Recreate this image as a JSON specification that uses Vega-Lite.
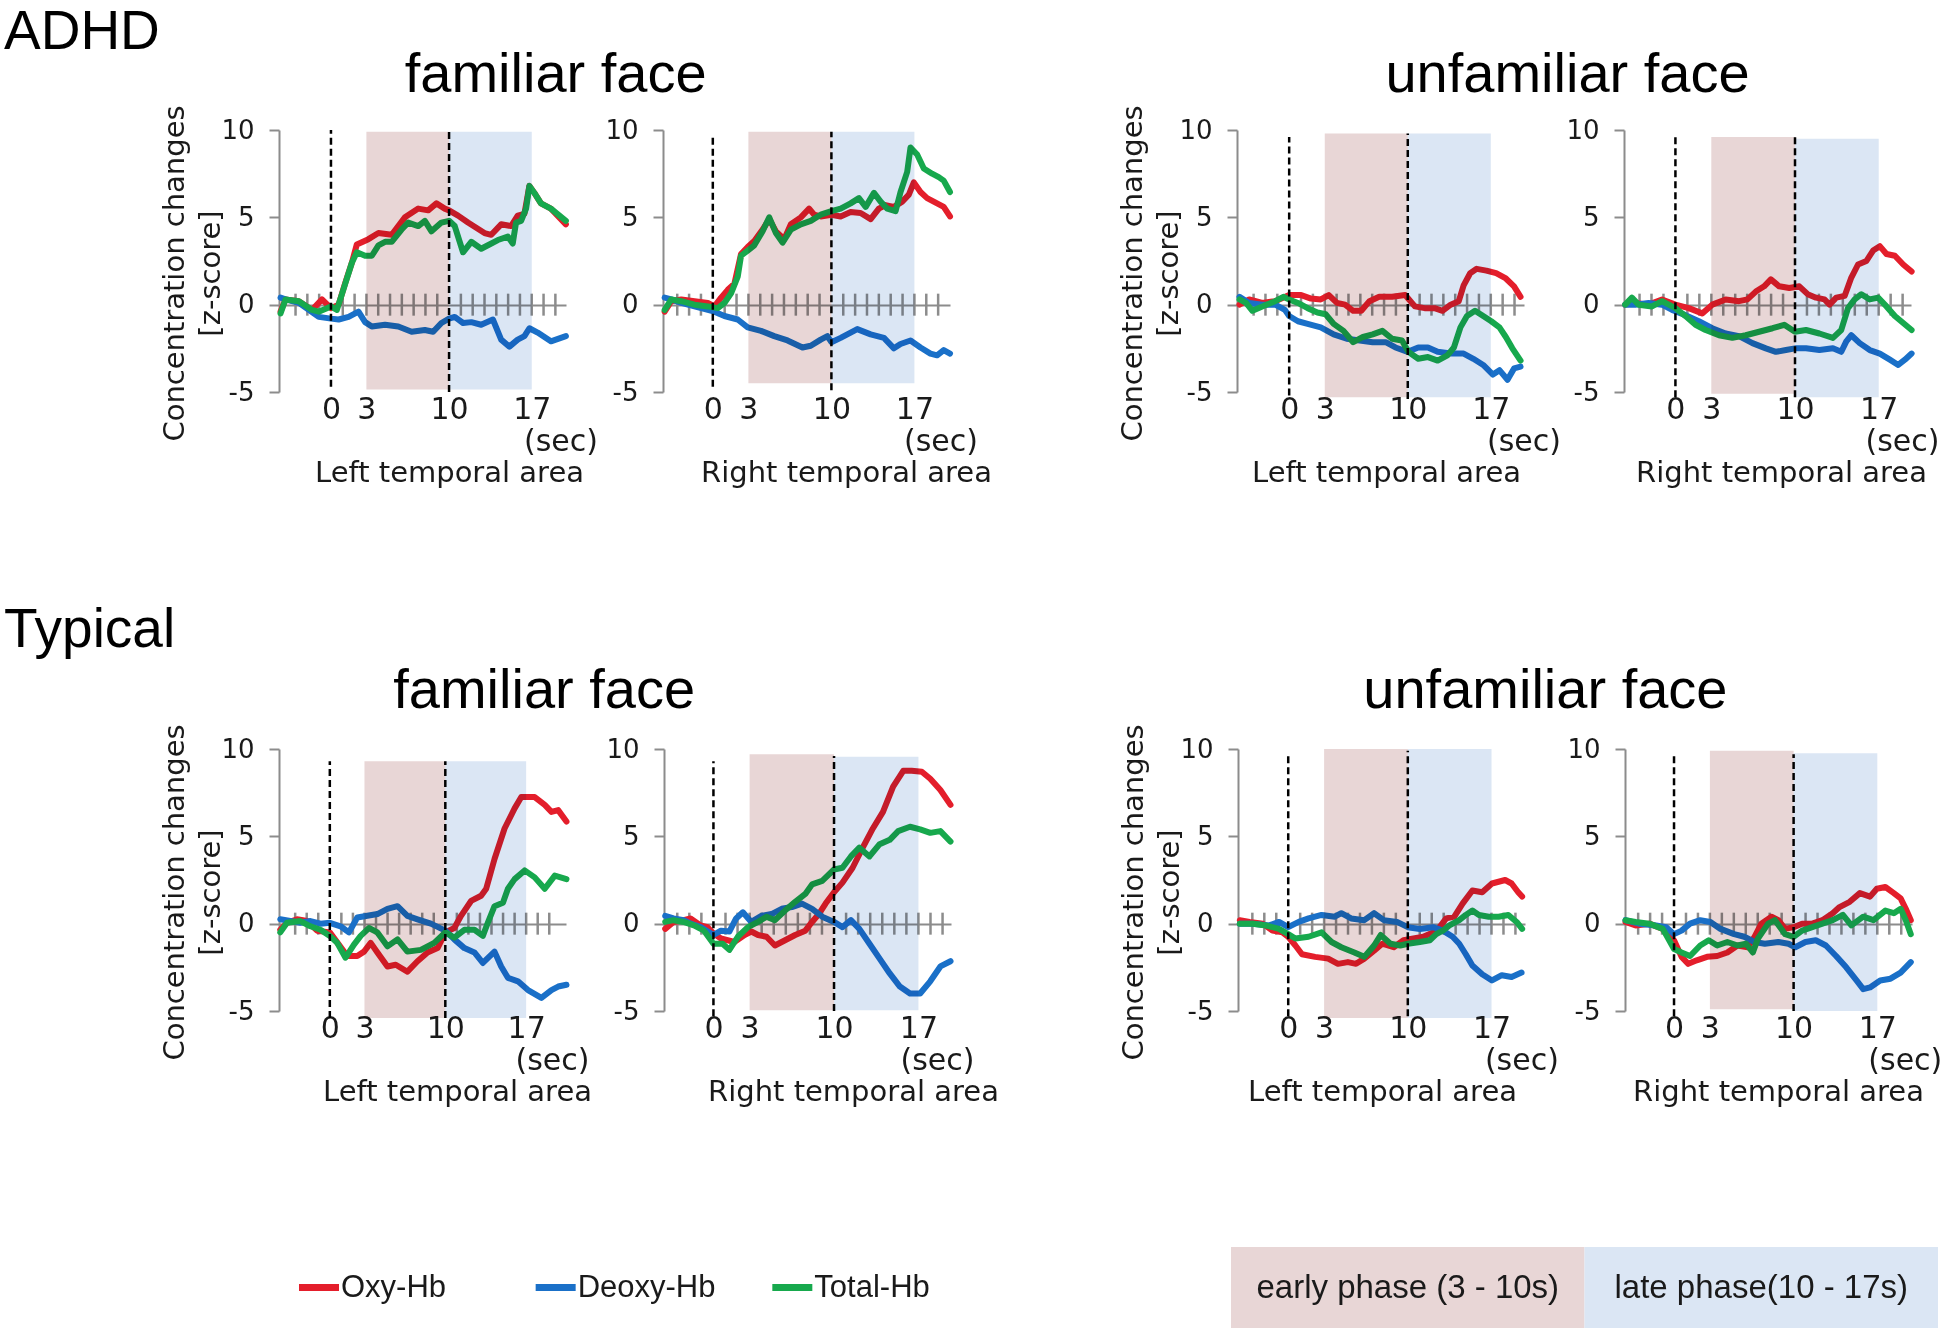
{
  "$schema": "https://vega.github.io/schema/vega-lite/v6.json",
  "padding": {"left": 4, "top": 4, "right": 0, "bottom": 0},
  "background": "white",
  "datasets": {
    "ticks": [{"t":-3,"v":0},{"t":-2,"v":0},{"t":-1,"v":0},{"t":1,"v":0},{"t":2,"v":0},{"t":3,"v":0},{"t":4,"v":0},{"t":5,"v":0},{"t":6,"v":0},{"t":7,"v":0},{"t":8,"v":0},{"t":9,"v":0},{"t":11,"v":0},{"t":12,"v":0},{"t":13,"v":0},{"t":14,"v":0},{"t":15,"v":0},{"t":16,"v":0},{"t":17,"v":0},{"t":18,"v":0},{"t":19,"v":0}],
    "phases": [
      {"p":"A1","phase":"early phase (3 - 10s)","t":3,"t2":10,"v":-4.85,"v2":9.9},
      {"p":"A1","phase":"late phase(10 - 17s)","t":10,"t2":17,"v":-4.85,"v2":9.9},
      {"p":"A2","phase":"early phase (3 - 10s)","t":3,"t2":10,"v":-4.5,"v2":9.9},
      {"p":"A2","phase":"late phase(10 - 17s)","t":10,"t2":17,"v":-4.5,"v2":9.9},
      {"p":"A3","phase":"early phase (3 - 10s)","t":3,"t2":10,"v":-5.3,"v2":9.8},
      {"p":"A3","phase":"late phase(10 - 17s)","t":10,"t2":17,"v":-5.3,"v2":9.8},
      {"p":"A4","phase":"early phase (3 - 10s)","t":3,"t2":10,"v":-5.1,"v2":9.6},
      {"p":"A4","phase":"late phase(10 - 17s)","t":10,"t2":17,"v":-5.3,"v2":9.5},
      {"p":"T1","phase":"early phase (3 - 10s)","t":3,"t2":10,"v":-5.4,"v2":9.3},
      {"p":"T1","phase":"late phase(10 - 17s)","t":10,"t2":17,"v":-5.4,"v2":9.3},
      {"p":"T2","phase":"early phase (3 - 10s)","t":3,"t2":10,"v":-4.95,"v2":9.7},
      {"p":"T2","phase":"late phase(10 - 17s)","t":10,"t2":17,"v":-4.95,"v2":9.55},
      {"p":"T3","phase":"early phase (3 - 10s)","t":3,"t2":10,"v":-5.4,"v2":10},
      {"p":"T3","phase":"late phase(10 - 17s)","t":10,"t2":17,"v":-5.4,"v2":10},
      {"p":"T4","phase":"early phase (3 - 10s)","t":3,"t2":10,"v":-4.9,"v2":9.9},
      {"p":"T4","phase":"late phase(10 - 17s)","t":10,"t2":17,"v":-5.0,"v2":9.75}
    ],
    "dashes": [
      {"p":"A1","t":0,"v":-4.7,"v2":10},{"p":"A1","t":10,"v":-5.0,"v2":10},
      {"p":"A2","t":0,"v":-4.7,"v2":9.75},{"p":"A2","t":10,"v":-4.9,"v2":9.9},
      {"p":"A3","t":0,"v":-5.2,"v2":9.6},{"p":"A3","t":10,"v":-5.4,"v2":9.8},
      {"p":"A4","t":0,"v":-5.3,"v2":9.6},{"p":"A4","t":10,"v":-5.3,"v2":9.6},
      {"p":"T1","t":0,"v":-5.4,"v2":9.3},{"p":"T1","t":10,"v":-5.4,"v2":9.3},
      {"p":"T2","t":0,"v":-5.3,"v2":9.3},{"p":"T2","t":10,"v":-5.0,"v2":9.6},
      {"p":"T3","t":0,"v":-5.3,"v2":9.8},{"p":"T3","t":10,"v":-5.3,"v2":9.9},
      {"p":"T4","t":0,"v":-5.3,"v2":9.6},{"p":"T4","t":10,"v":-5.0,"v2":9.7}
    ],
    "curves": [
      {"p":"A1","s":"Oxy-Hb","t":-4.27,"v":-0.4},{"p":"A1","s":"Oxy-Hb","t":-3.85,"v":0.3},{"p":"A1","s":"Oxy-Hb","t":-2.72,"v":0.2},{"p":"A1","s":"Oxy-Hb","t":-1.6,"v":-0.3},{"p":"A1","s":"Oxy-Hb","t":-0.76,"v":0.3},{"p":"A1","s":"Oxy-Hb","t":0,"v":-0.2},{"p":"A1","s":"Oxy-Hb","t":0.65,"v":0},{"p":"A1","s":"Oxy-Hb","t":1.21,"v":1.25},{"p":"A1","s":"Oxy-Hb","t":1.77,"v":2.4},{"p":"A1","s":"Oxy-Hb","t":2.19,"v":3.45},{"p":"A1","s":"Oxy-Hb","t":3.17,"v":3.75},{"p":"A1","s":"Oxy-Hb","t":4.02,"v":4.1},{"p":"A1","s":"Oxy-Hb","t":5.14,"v":4.0},{"p":"A1","s":"Oxy-Hb","t":6.26,"v":5.0},{"p":"A1","s":"Oxy-Hb","t":7.39,"v":5.5},{"p":"A1","s":"Oxy-Hb","t":8.23,"v":5.4},{"p":"A1","s":"Oxy-Hb","t":8.93,"v":5.8},{"p":"A1","s":"Oxy-Hb","t":9.63,"v":5.5},{"p":"A1","s":"Oxy-Hb","t":10.0,"v":5.4},{"p":"A1","s":"Oxy-Hb","t":10.76,"v":5.1},{"p":"A1","s":"Oxy-Hb","t":11.6,"v":4.7},{"p":"A1","s":"Oxy-Hb","t":13.0,"v":4.1},{"p":"A1","s":"Oxy-Hb","t":13.57,"v":4.0},{"p":"A1","s":"Oxy-Hb","t":14.41,"v":4.6},{"p":"A1","s":"Oxy-Hb","t":15.25,"v":4.5},{"p":"A1","s":"Oxy-Hb","t":15.81,"v":5.1},{"p":"A1","s":"Oxy-Hb","t":16.38,"v":5.2},{"p":"A1","s":"Oxy-Hb","t":16.8,"v":6.8},{"p":"A1","s":"Oxy-Hb","t":17.22,"v":6.4},{"p":"A1","s":"Oxy-Hb","t":17.78,"v":5.8},{"p":"A1","s":"Oxy-Hb","t":18.62,"v":5.5},{"p":"A1","s":"Oxy-Hb","t":19.89,"v":4.6},
      {"p":"A1","s":"Deoxy-Hb","t":-4.27,"v":0.4},{"p":"A1","s":"Deoxy-Hb","t":-3.85,"v":0.3},{"p":"A1","s":"Deoxy-Hb","t":-2.72,"v":0.1},{"p":"A1","s":"Deoxy-Hb","t":-1.88,"v":-0.3},{"p":"A1","s":"Deoxy-Hb","t":-1.04,"v":-0.7},{"p":"A1","s":"Deoxy-Hb","t":0,"v":-0.8},{"p":"A1","s":"Deoxy-Hb","t":0.65,"v":-0.85},{"p":"A1","s":"Deoxy-Hb","t":1.49,"v":-0.7},{"p":"A1","s":"Deoxy-Hb","t":2.33,"v":-0.4},{"p":"A1","s":"Deoxy-Hb","t":2.89,"v":-1.0},{"p":"A1","s":"Deoxy-Hb","t":3.46,"v":-1.25},{"p":"A1","s":"Deoxy-Hb","t":4.58,"v":-1.15},{"p":"A1","s":"Deoxy-Hb","t":5.7,"v":-1.25},{"p":"A1","s":"Deoxy-Hb","t":6.83,"v":-1.55},{"p":"A1","s":"Deoxy-Hb","t":7.95,"v":-1.45},{"p":"A1","s":"Deoxy-Hb","t":8.65,"v":-1.55},{"p":"A1","s":"Deoxy-Hb","t":9.35,"v":-1.05},{"p":"A1","s":"Deoxy-Hb","t":10.0,"v":-0.8},{"p":"A1","s":"Deoxy-Hb","t":10.48,"v":-0.7},{"p":"A1","s":"Deoxy-Hb","t":11.18,"v":-1.05},{"p":"A1","s":"Deoxy-Hb","t":11.88,"v":-1.0},{"p":"A1","s":"Deoxy-Hb","t":12.72,"v":-1.15},{"p":"A1","s":"Deoxy-Hb","t":13.71,"v":-0.85},{"p":"A1","s":"Deoxy-Hb","t":14.41,"v":-2.0},{"p":"A1","s":"Deoxy-Hb","t":15.11,"v":-2.4},{"p":"A1","s":"Deoxy-Hb","t":15.81,"v":-2.0},{"p":"A1","s":"Deoxy-Hb","t":16.38,"v":-1.8},{"p":"A1","s":"Deoxy-Hb","t":16.8,"v":-1.35},{"p":"A1","s":"Deoxy-Hb","t":17.5,"v":-1.6},{"p":"A1","s":"Deoxy-Hb","t":18.62,"v":-2.1},{"p":"A1","s":"Deoxy-Hb","t":19.89,"v":-1.8},
      {"p":"A1","s":"Total-Hb","t":-4.27,"v":-0.5},{"p":"A1","s":"Total-Hb","t":-3.85,"v":0.3},{"p":"A1","s":"Total-Hb","t":-2.72,"v":0.2},{"p":"A1","s":"Total-Hb","t":-1.6,"v":-0.3},{"p":"A1","s":"Total-Hb","t":-1.04,"v":-0.4},{"p":"A1","s":"Total-Hb","t":0,"v":-0.1},{"p":"A1","s":"Total-Hb","t":0.5,"v":-0.3},{"p":"A1","s":"Total-Hb","t":1.07,"v":0.9},{"p":"A1","s":"Total-Hb","t":1.77,"v":2.4},{"p":"A1","s":"Total-Hb","t":2.19,"v":3.0},{"p":"A1","s":"Total-Hb","t":2.89,"v":2.8},{"p":"A1","s":"Total-Hb","t":3.46,"v":2.8},{"p":"A1","s":"Total-Hb","t":4.02,"v":3.4},{"p":"A1","s":"Total-Hb","t":4.58,"v":3.6},{"p":"A1","s":"Total-Hb","t":5.14,"v":3.6},{"p":"A1","s":"Total-Hb","t":5.98,"v":4.3},{"p":"A1","s":"Total-Hb","t":6.54,"v":4.7},{"p":"A1","s":"Total-Hb","t":7.39,"v":4.5},{"p":"A1","s":"Total-Hb","t":7.95,"v":4.8},{"p":"A1","s":"Total-Hb","t":8.51,"v":4.2},{"p":"A1","s":"Total-Hb","t":9.35,"v":4.7},{"p":"A1","s":"Total-Hb","t":10.0,"v":4.8},{"p":"A1","s":"Total-Hb","t":10.48,"v":4.5},{"p":"A1","s":"Total-Hb","t":11.18,"v":3.0},{"p":"A1","s":"Total-Hb","t":11.88,"v":3.6},{"p":"A1","s":"Total-Hb","t":12.72,"v":3.2},{"p":"A1","s":"Total-Hb","t":13.29,"v":3.4},{"p":"A1","s":"Total-Hb","t":14.13,"v":3.7},{"p":"A1","s":"Total-Hb","t":14.97,"v":3.9},{"p":"A1","s":"Total-Hb","t":15.39,"v":3.5},{"p":"A1","s":"Total-Hb","t":15.67,"v":4.7},{"p":"A1","s":"Total-Hb","t":16.1,"v":4.8},{"p":"A1","s":"Total-Hb","t":16.52,"v":5.5},{"p":"A1","s":"Total-Hb","t":16.8,"v":6.8},{"p":"A1","s":"Total-Hb","t":17.22,"v":6.4},{"p":"A1","s":"Total-Hb","t":17.78,"v":5.8},{"p":"A1","s":"Total-Hb","t":18.62,"v":5.5},{"p":"A1","s":"Total-Hb","t":19.89,"v":4.8},

      {"p":"A2","s":"Oxy-Hb","t":-4.06,"v":-0.4},{"p":"A2","s":"Oxy-Hb","t":-3.5,"v":0.2},{"p":"A2","s":"Oxy-Hb","t":-2.66,"v":0.3},{"p":"A2","s":"Oxy-Hb","t":-1.54,"v":0.2},{"p":"A2","s":"Oxy-Hb","t":-0.42,"v":0.1},{"p":"A2","s":"Oxy-Hb","t":0.14,"v":-0.1},{"p":"A2","s":"Oxy-Hb","t":0.7,"v":0.4},{"p":"A2","s":"Oxy-Hb","t":1.26,"v":0.85},{"p":"A2","s":"Oxy-Hb","t":1.82,"v":1.2},{"p":"A2","s":"Oxy-Hb","t":2.38,"v":2.9},{"p":"A2","s":"Oxy-Hb","t":2.94,"v":3.3},{"p":"A2","s":"Oxy-Hb","t":3.5,"v":3.65},{"p":"A2","s":"Oxy-Hb","t":4.2,"v":4.3},{"p":"A2","s":"Oxy-Hb","t":4.76,"v":4.9},{"p":"A2","s":"Oxy-Hb","t":5.32,"v":4.2},{"p":"A2","s":"Oxy-Hb","t":6.02,"v":3.75},{"p":"A2","s":"Oxy-Hb","t":6.58,"v":4.6},{"p":"A2","s":"Oxy-Hb","t":7.42,"v":5.0},{"p":"A2","s":"Oxy-Hb","t":8.12,"v":5.5},{"p":"A2","s":"Oxy-Hb","t":8.54,"v":5.15},{"p":"A2","s":"Oxy-Hb","t":9.1,"v":5.05},{"p":"A2","s":"Oxy-Hb","t":10.0,"v":5.15},{"p":"A2","s":"Oxy-Hb","t":10.78,"v":5.05},{"p":"A2","s":"Oxy-Hb","t":11.62,"v":5.3},{"p":"A2","s":"Oxy-Hb","t":12.46,"v":5.25},{"p":"A2","s":"Oxy-Hb","t":13.31,"v":4.9},{"p":"A2","s":"Oxy-Hb","t":14.0,"v":5.5},{"p":"A2","s":"Oxy-Hb","t":14.57,"v":5.7},{"p":"A2","s":"Oxy-Hb","t":15.27,"v":5.6},{"p":"A2","s":"Oxy-Hb","t":15.97,"v":5.9},{"p":"A2","s":"Oxy-Hb","t":16.53,"v":6.3},{"p":"A2","s":"Oxy-Hb","t":16.95,"v":7.0},{"p":"A2","s":"Oxy-Hb","t":17.51,"v":6.45},{"p":"A2","s":"Oxy-Hb","t":18.07,"v":6.1},{"p":"A2","s":"Oxy-Hb","t":18.91,"v":5.8},{"p":"A2","s":"Oxy-Hb","t":19.47,"v":5.6},{"p":"A2","s":"Oxy-Hb","t":20.0,"v":5.05},
      {"p":"A2","s":"Deoxy-Hb","t":-4.06,"v":0.4},{"p":"A2","s":"Deoxy-Hb","t":-3.5,"v":0.3},{"p":"A2","s":"Deoxy-Hb","t":-2.66,"v":0.1},{"p":"A2","s":"Deoxy-Hb","t":-1.54,"v":-0.1},{"p":"A2","s":"Deoxy-Hb","t":-0.42,"v":-0.3},{"p":"A2","s":"Deoxy-Hb","t":0.14,"v":-0.4},{"p":"A2","s":"Deoxy-Hb","t":0.98,"v":-0.65},{"p":"A2","s":"Deoxy-Hb","t":2.1,"v":-0.85},{"p":"A2","s":"Deoxy-Hb","t":2.94,"v":-1.3},{"p":"A2","s":"Deoxy-Hb","t":4.06,"v":-1.5},{"p":"A2","s":"Deoxy-Hb","t":5.18,"v":-1.8},{"p":"A2","s":"Deoxy-Hb","t":6.3,"v":-2.05},{"p":"A2","s":"Deoxy-Hb","t":7.56,"v":-2.45},{"p":"A2","s":"Deoxy-Hb","t":8.26,"v":-2.35},{"p":"A2","s":"Deoxy-Hb","t":9.1,"v":-2.0},{"p":"A2","s":"Deoxy-Hb","t":9.66,"v":-1.8},{"p":"A2","s":"Deoxy-Hb","t":10.0,"v":-2.15},{"p":"A2","s":"Deoxy-Hb","t":10.78,"v":-1.9},{"p":"A2","s":"Deoxy-Hb","t":12.18,"v":-1.4},{"p":"A2","s":"Deoxy-Hb","t":13.31,"v":-1.7},{"p":"A2","s":"Deoxy-Hb","t":14.43,"v":-1.9},{"p":"A2","s":"Deoxy-Hb","t":15.27,"v":-2.5},{"p":"A2","s":"Deoxy-Hb","t":15.83,"v":-2.25},{"p":"A2","s":"Deoxy-Hb","t":16.67,"v":-2.05},{"p":"A2","s":"Deoxy-Hb","t":17.51,"v":-2.45},{"p":"A2","s":"Deoxy-Hb","t":18.35,"v":-2.8},{"p":"A2","s":"Deoxy-Hb","t":18.91,"v":-2.9},{"p":"A2","s":"Deoxy-Hb","t":19.47,"v":-2.6},{"p":"A2","s":"Deoxy-Hb","t":20.0,"v":-2.8},
      {"p":"A2","s":"Total-Hb","t":-4.06,"v":-0.3},{"p":"A2","s":"Total-Hb","t":-3.5,"v":0.3},{"p":"A2","s":"Total-Hb","t":-2.66,"v":0.2},{"p":"A2","s":"Total-Hb","t":-1.54,"v":0},{"p":"A2","s":"Total-Hb","t":-0.42,"v":-0.1},{"p":"A2","s":"Total-Hb","t":0.42,"v":-0.2},{"p":"A2","s":"Total-Hb","t":0.98,"v":0.1},{"p":"A2","s":"Total-Hb","t":1.54,"v":0.65},{"p":"A2","s":"Total-Hb","t":2.1,"v":1.6},{"p":"A2","s":"Total-Hb","t":2.38,"v":2.8},{"p":"A2","s":"Total-Hb","t":2.94,"v":3.1},{"p":"A2","s":"Total-Hb","t":3.5,"v":3.4},{"p":"A2","s":"Total-Hb","t":4.2,"v":4.2},{"p":"A2","s":"Total-Hb","t":4.76,"v":5.0},{"p":"A2","s":"Total-Hb","t":5.32,"v":4.1},{"p":"A2","s":"Total-Hb","t":5.88,"v":3.55},{"p":"A2","s":"Total-Hb","t":6.58,"v":4.3},{"p":"A2","s":"Total-Hb","t":7.42,"v":4.6},{"p":"A2","s":"Total-Hb","t":8.26,"v":4.8},{"p":"A2","s":"Total-Hb","t":9.1,"v":5.15},{"p":"A2","s":"Total-Hb","t":10.0,"v":5.35},{"p":"A2","s":"Total-Hb","t":10.78,"v":5.5},{"p":"A2","s":"Total-Hb","t":11.62,"v":5.8},{"p":"A2","s":"Total-Hb","t":12.32,"v":6.1},{"p":"A2","s":"Total-Hb","t":12.89,"v":5.6},{"p":"A2","s":"Total-Hb","t":13.59,"v":6.4},{"p":"A2","s":"Total-Hb","t":14.15,"v":5.9},{"p":"A2","s":"Total-Hb","t":14.71,"v":5.5},{"p":"A2","s":"Total-Hb","t":15.41,"v":5.35},{"p":"A2","s":"Total-Hb","t":15.83,"v":6.45},{"p":"A2","s":"Total-Hb","t":16.39,"v":7.6},{"p":"A2","s":"Total-Hb","t":16.67,"v":9.0},{"p":"A2","s":"Total-Hb","t":17.23,"v":8.6},{"p":"A2","s":"Total-Hb","t":17.79,"v":7.8},{"p":"A2","s":"Total-Hb","t":18.49,"v":7.5},{"p":"A2","s":"Total-Hb","t":19.05,"v":7.3},{"p":"A2","s":"Total-Hb","t":19.47,"v":7.1},{"p":"A2","s":"Total-Hb","t":20.0,"v":6.45},

      {"p":"A3","s":"Oxy-Hb","t":-4.19,"v":0},{"p":"A3","s":"Oxy-Hb","t":-3.37,"v":0.3},{"p":"A3","s":"Oxy-Hb","t":-2.27,"v":0.1},{"p":"A3","s":"Oxy-Hb","t":-1.18,"v":0.2},{"p":"A3","s":"Oxy-Hb","t":0,"v":0.55},{"p":"A3","s":"Oxy-Hb","t":1.01,"v":0.55},{"p":"A3","s":"Oxy-Hb","t":1.84,"v":0.35},{"p":"A3","s":"Oxy-Hb","t":2.66,"v":0.3},{"p":"A3","s":"Oxy-Hb","t":3.34,"v":0.55},{"p":"A3","s":"Oxy-Hb","t":4.03,"v":0.1},{"p":"A3","s":"Oxy-Hb","t":4.71,"v":0},{"p":"A3","s":"Oxy-Hb","t":5.4,"v":-0.35},{"p":"A3","s":"Oxy-Hb","t":6.08,"v":-0.35},{"p":"A3","s":"Oxy-Hb","t":6.77,"v":0.2},{"p":"A3","s":"Oxy-Hb","t":7.59,"v":0.45},{"p":"A3","s":"Oxy-Hb","t":8.68,"v":0.45},{"p":"A3","s":"Oxy-Hb","t":9.78,"v":0.55},{"p":"A3","s":"Oxy-Hb","t":10.6,"v":-0.1},{"p":"A3","s":"Oxy-Hb","t":11.42,"v":-0.2},{"p":"A3","s":"Oxy-Hb","t":12.25,"v":-0.2},{"p":"A3","s":"Oxy-Hb","t":12.93,"v":-0.35},{"p":"A3","s":"Oxy-Hb","t":13.62,"v":0},{"p":"A3","s":"Oxy-Hb","t":14.3,"v":0.2},{"p":"A3","s":"Oxy-Hb","t":14.71,"v":1.1},{"p":"A3","s":"Oxy-Hb","t":15.26,"v":1.8},{"p":"A3","s":"Oxy-Hb","t":15.81,"v":2.05},{"p":"A3","s":"Oxy-Hb","t":16.63,"v":1.95},{"p":"A3","s":"Oxy-Hb","t":17.45,"v":1.8},{"p":"A3","s":"Oxy-Hb","t":18.27,"v":1.5},{"p":"A3","s":"Oxy-Hb","t":18.96,"v":1.05},{"p":"A3","s":"Oxy-Hb","t":19.51,"v":0.45},
      {"p":"A3","s":"Deoxy-Hb","t":-4.19,"v":0.45},{"p":"A3","s":"Deoxy-Hb","t":-3.37,"v":0.1},{"p":"A3","s":"Deoxy-Hb","t":-2.27,"v":0},{"p":"A3","s":"Deoxy-Hb","t":-1.18,"v":0},{"p":"A3","s":"Deoxy-Hb","t":-0.36,"v":-0.3},{"p":"A3","s":"Deoxy-Hb","t":0,"v":-0.65},{"p":"A3","s":"Deoxy-Hb","t":0.74,"v":-0.95},{"p":"A3","s":"Deoxy-Hb","t":1.56,"v":-1.1},{"p":"A3","s":"Deoxy-Hb","t":2.66,"v":-1.3},{"p":"A3","s":"Deoxy-Hb","t":3.75,"v":-1.7},{"p":"A3","s":"Deoxy-Hb","t":4.85,"v":-1.95},{"p":"A3","s":"Deoxy-Hb","t":5.95,"v":-2.05},{"p":"A3","s":"Deoxy-Hb","t":7.04,"v":-2.15},{"p":"A3","s":"Deoxy-Hb","t":8.14,"v":-2.15},{"p":"A3","s":"Deoxy-Hb","t":8.96,"v":-2.45},{"p":"A3","s":"Deoxy-Hb","t":10.0,"v":-2.7},{"p":"A3","s":"Deoxy-Hb","t":10.88,"v":-2.45},{"p":"A3","s":"Deoxy-Hb","t":11.7,"v":-2.45},{"p":"A3","s":"Deoxy-Hb","t":12.52,"v":-2.7},{"p":"A3","s":"Deoxy-Hb","t":13.62,"v":-2.8},{"p":"A3","s":"Deoxy-Hb","t":14.71,"v":-2.8},{"p":"A3","s":"Deoxy-Hb","t":15.53,"v":-3.1},{"p":"A3","s":"Deoxy-Hb","t":16.36,"v":-3.45},{"p":"A3","s":"Deoxy-Hb","t":17.18,"v":-4.0},{"p":"A3","s":"Deoxy-Hb","t":17.73,"v":-3.75},{"p":"A3","s":"Deoxy-Hb","t":18.41,"v":-4.3},{"p":"A3","s":"Deoxy-Hb","t":18.96,"v":-3.65},{"p":"A3","s":"Deoxy-Hb","t":19.51,"v":-3.55},
      {"p":"A3","s":"Total-Hb","t":-4.19,"v":0.3},{"p":"A3","s":"Total-Hb","t":-3.64,"v":0.1},{"p":"A3","s":"Total-Hb","t":-3.1,"v":-0.35},{"p":"A3","s":"Total-Hb","t":-2.27,"v":-0.1},{"p":"A3","s":"Total-Hb","t":-1.18,"v":0.2},{"p":"A3","s":"Total-Hb","t":-0.49,"v":0.45},{"p":"A3","s":"Total-Hb","t":0,"v":0.3},{"p":"A3","s":"Total-Hb","t":0.74,"v":0.1},{"p":"A3","s":"Total-Hb","t":1.56,"v":-0.2},{"p":"A3","s":"Total-Hb","t":2.38,"v":-0.45},{"p":"A3","s":"Total-Hb","t":3.07,"v":-0.55},{"p":"A3","s":"Total-Hb","t":3.75,"v":-1.1},{"p":"A3","s":"Total-Hb","t":4.58,"v":-1.5},{"p":"A3","s":"Total-Hb","t":5.4,"v":-2.15},{"p":"A3","s":"Total-Hb","t":6.22,"v":-1.85},{"p":"A3","s":"Total-Hb","t":7.04,"v":-1.7},{"p":"A3","s":"Total-Hb","t":7.86,"v":-1.5},{"p":"A3","s":"Total-Hb","t":8.68,"v":-1.95},{"p":"A3","s":"Total-Hb","t":9.51,"v":-2.05},{"p":"A3","s":"Total-Hb","t":10.05,"v":-2.7},{"p":"A3","s":"Total-Hb","t":10.88,"v":-3.1},{"p":"A3","s":"Total-Hb","t":11.7,"v":-3.0},{"p":"A3","s":"Total-Hb","t":12.52,"v":-3.2},{"p":"A3","s":"Total-Hb","t":13.34,"v":-2.9},{"p":"A3","s":"Total-Hb","t":13.89,"v":-2.45},{"p":"A3","s":"Total-Hb","t":14.44,"v":-1.3},{"p":"A3","s":"Total-Hb","t":14.99,"v":-0.65},{"p":"A3","s":"Total-Hb","t":15.67,"v":-0.35},{"p":"A3","s":"Total-Hb","t":16.36,"v":-0.65},{"p":"A3","s":"Total-Hb","t":17.04,"v":-0.95},{"p":"A3","s":"Total-Hb","t":17.73,"v":-1.3},{"p":"A3","s":"Total-Hb","t":18.27,"v":-1.85},{"p":"A3","s":"Total-Hb","t":18.82,"v":-2.5},{"p":"A3","s":"Total-Hb","t":19.51,"v":-3.2},

      {"p":"A4","s":"Oxy-Hb","t":-4.2,"v":0},{"p":"A4","s":"Oxy-Hb","t":-3.36,"v":0.1},{"p":"A4","s":"Oxy-Hb","t":-2.24,"v":0},{"p":"A4","s":"Oxy-Hb","t":-1.12,"v":0.3},{"p":"A4","s":"Oxy-Hb","t":0,"v":0},{"p":"A4","s":"Oxy-Hb","t":1.12,"v":-0.2},{"p":"A4","s":"Oxy-Hb","t":2.24,"v":-0.5},{"p":"A4","s":"Oxy-Hb","t":3.08,"v":0},{"p":"A4","s":"Oxy-Hb","t":4.2,"v":0.3},{"p":"A4","s":"Oxy-Hb","t":5.32,"v":0.2},{"p":"A4","s":"Oxy-Hb","t":6.02,"v":0.3},{"p":"A4","s":"Oxy-Hb","t":6.72,"v":0.75},{"p":"A4","s":"Oxy-Hb","t":7.42,"v":1.05},{"p":"A4","s":"Oxy-Hb","t":7.98,"v":1.45},{"p":"A4","s":"Oxy-Hb","t":8.68,"v":1.05},{"p":"A4","s":"Oxy-Hb","t":9.52,"v":0.95},{"p":"A4","s":"Oxy-Hb","t":10.36,"v":1.05},{"p":"A4","s":"Oxy-Hb","t":11.06,"v":0.6},{"p":"A4","s":"Oxy-Hb","t":11.76,"v":0.4},{"p":"A4","s":"Oxy-Hb","t":12.46,"v":0.3},{"p":"A4","s":"Oxy-Hb","t":12.89,"v":0},{"p":"A4","s":"Oxy-Hb","t":13.45,"v":0.4},{"p":"A4","s":"Oxy-Hb","t":14.15,"v":0.5},{"p":"A4","s":"Oxy-Hb","t":14.71,"v":1.55},{"p":"A4","s":"Oxy-Hb","t":15.27,"v":2.3},{"p":"A4","s":"Oxy-Hb","t":15.97,"v":2.5},{"p":"A4","s":"Oxy-Hb","t":16.53,"v":3.1},{"p":"A4","s":"Oxy-Hb","t":17.09,"v":3.35},{"p":"A4","s":"Oxy-Hb","t":17.65,"v":2.9},{"p":"A4","s":"Oxy-Hb","t":18.35,"v":2.8},{"p":"A4","s":"Oxy-Hb","t":19.05,"v":2.3},{"p":"A4","s":"Oxy-Hb","t":19.75,"v":1.9},
      {"p":"A4","s":"Deoxy-Hb","t":-4.2,"v":0},{"p":"A4","s":"Deoxy-Hb","t":-3.36,"v":0},{"p":"A4","s":"Deoxy-Hb","t":-2.24,"v":0.1},{"p":"A4","s":"Deoxy-Hb","t":-1.12,"v":0},{"p":"A4","s":"Deoxy-Hb","t":-0.28,"v":-0.3},{"p":"A4","s":"Deoxy-Hb","t":0.84,"v":-0.6},{"p":"A4","s":"Deoxy-Hb","t":1.96,"v":-0.95},{"p":"A4","s":"Deoxy-Hb","t":3.08,"v":-1.35},{"p":"A4","s":"Deoxy-Hb","t":4.2,"v":-1.65},{"p":"A4","s":"Deoxy-Hb","t":5.32,"v":-1.8},{"p":"A4","s":"Deoxy-Hb","t":6.44,"v":-2.2},{"p":"A4","s":"Deoxy-Hb","t":7.56,"v":-2.5},{"p":"A4","s":"Deoxy-Hb","t":8.4,"v":-2.7},{"p":"A4","s":"Deoxy-Hb","t":9.24,"v":-2.6},{"p":"A4","s":"Deoxy-Hb","t":10.0,"v":-2.5},{"p":"A4","s":"Deoxy-Hb","t":10.92,"v":-2.5},{"p":"A4","s":"Deoxy-Hb","t":12.04,"v":-2.6},{"p":"A4","s":"Deoxy-Hb","t":13.17,"v":-2.5},{"p":"A4","s":"Deoxy-Hb","t":13.87,"v":-2.7},{"p":"A4","s":"Deoxy-Hb","t":14.29,"v":-2.1},{"p":"A4","s":"Deoxy-Hb","t":14.71,"v":-1.75},{"p":"A4","s":"Deoxy-Hb","t":15.41,"v":-2.2},{"p":"A4","s":"Deoxy-Hb","t":16.25,"v":-2.6},{"p":"A4","s":"Deoxy-Hb","t":17.09,"v":-2.8},{"p":"A4","s":"Deoxy-Hb","t":17.93,"v":-3.15},{"p":"A4","s":"Deoxy-Hb","t":18.63,"v":-3.45},{"p":"A4","s":"Deoxy-Hb","t":19.19,"v":-3.15},{"p":"A4","s":"Deoxy-Hb","t":19.75,"v":-2.8},
      {"p":"A4","s":"Total-Hb","t":-4.2,"v":0},{"p":"A4","s":"Total-Hb","t":-3.64,"v":0.4},{"p":"A4","s":"Total-Hb","t":-3.08,"v":0},{"p":"A4","s":"Total-Hb","t":-1.96,"v":-0.1},{"p":"A4","s":"Total-Hb","t":-1.12,"v":0.2},{"p":"A4","s":"Total-Hb","t":-0.56,"v":0},{"p":"A4","s":"Total-Hb","t":0,"v":-0.2},{"p":"A4","s":"Total-Hb","t":0.84,"v":-0.65},{"p":"A4","s":"Total-Hb","t":1.68,"v":-1.15},{"p":"A4","s":"Total-Hb","t":2.52,"v":-1.45},{"p":"A4","s":"Total-Hb","t":3.64,"v":-1.75},{"p":"A4","s":"Total-Hb","t":4.76,"v":-1.9},{"p":"A4","s":"Total-Hb","t":5.88,"v":-1.75},{"p":"A4","s":"Total-Hb","t":7.0,"v":-1.55},{"p":"A4","s":"Total-Hb","t":8.12,"v":-1.35},{"p":"A4","s":"Total-Hb","t":9.1,"v":-1.15},{"p":"A4","s":"Total-Hb","t":10.0,"v":-1.55},{"p":"A4","s":"Total-Hb","t":10.92,"v":-1.45},{"p":"A4","s":"Total-Hb","t":12.04,"v":-1.65},{"p":"A4","s":"Total-Hb","t":13.17,"v":-1.9},{"p":"A4","s":"Total-Hb","t":13.87,"v":-1.45},{"p":"A4","s":"Total-Hb","t":14.43,"v":-0.2},{"p":"A4","s":"Total-Hb","t":14.99,"v":0.3},{"p":"A4","s":"Total-Hb","t":15.55,"v":0.6},{"p":"A4","s":"Total-Hb","t":16.25,"v":0.3},{"p":"A4","s":"Total-Hb","t":16.95,"v":0.4},{"p":"A4","s":"Total-Hb","t":17.65,"v":-0.1},{"p":"A4","s":"Total-Hb","t":18.35,"v":-0.65},{"p":"A4","s":"Total-Hb","t":19.05,"v":-1.05},{"p":"A4","s":"Total-Hb","t":19.75,"v":-1.45},

      {"p":"T1","s":"Oxy-Hb","t":-4.29,"v":-0.35},{"p":"T1","s":"Oxy-Hb","t":-3.71,"v":0.05},{"p":"T1","s":"Oxy-Hb","t":-2.84,"v":0.25},{"p":"T1","s":"Oxy-Hb","t":-1.97,"v":0.15},{"p":"T1","s":"Oxy-Hb","t":-1.1,"v":-0.4},{"p":"T1","s":"Oxy-Hb","t":0,"v":-0.5},{"p":"T1","s":"Oxy-Hb","t":0.78,"v":-1.2},{"p":"T1","s":"Oxy-Hb","t":1.51,"v":-1.85},{"p":"T1","s":"Oxy-Hb","t":2.38,"v":-1.85},{"p":"T1","s":"Oxy-Hb","t":2.96,"v":-1.6},{"p":"T1","s":"Oxy-Hb","t":3.54,"v":-1.1},{"p":"T1","s":"Oxy-Hb","t":4.12,"v":-1.65},{"p":"T1","s":"Oxy-Hb","t":4.99,"v":-2.45},{"p":"T1","s":"Oxy-Hb","t":5.71,"v":-2.35},{"p":"T1","s":"Oxy-Hb","t":6.72,"v":-2.75},{"p":"T1","s":"Oxy-Hb","t":7.59,"v":-2.15},{"p":"T1","s":"Oxy-Hb","t":8.46,"v":-1.65},{"p":"T1","s":"Oxy-Hb","t":9.33,"v":-1.4},{"p":"T1","s":"Oxy-Hb","t":10.0,"v":-0.5},{"p":"T1","s":"Oxy-Hb","t":10.78,"v":-0.25},{"p":"T1","s":"Oxy-Hb","t":11.36,"v":0.45},{"p":"T1","s":"Oxy-Hb","t":12.23,"v":1.3},{"p":"T1","s":"Oxy-Hb","t":13.1,"v":1.6},{"p":"T1","s":"Oxy-Hb","t":13.54,"v":2.0},{"p":"T1","s":"Oxy-Hb","t":14.26,"v":3.7},{"p":"T1","s":"Oxy-Hb","t":15.13,"v":5.45},{"p":"T1","s":"Oxy-Hb","t":16.0,"v":6.6},{"p":"T1","s":"Oxy-Hb","t":16.58,"v":7.25},{"p":"T1","s":"Oxy-Hb","t":17.74,"v":7.25},{"p":"T1","s":"Oxy-Hb","t":18.61,"v":6.8},{"p":"T1","s":"Oxy-Hb","t":19.19,"v":6.4},{"p":"T1","s":"Oxy-Hb","t":19.77,"v":6.5},{"p":"T1","s":"Oxy-Hb","t":20.49,"v":5.85},
      {"p":"T1","s":"Deoxy-Hb","t":-4.29,"v":0.25},{"p":"T1","s":"Deoxy-Hb","t":-3.42,"v":0.15},{"p":"T1","s":"Deoxy-Hb","t":-2.55,"v":0.05},{"p":"T1","s":"Deoxy-Hb","t":-1.68,"v":0.15},{"p":"T1","s":"Deoxy-Hb","t":-0.81,"v":0},{"p":"T1","s":"Deoxy-Hb","t":0,"v":0.05},{"p":"T1","s":"Deoxy-Hb","t":0.93,"v":-0.15},{"p":"T1","s":"Deoxy-Hb","t":1.65,"v":-0.5},{"p":"T1","s":"Deoxy-Hb","t":2.38,"v":0.35},{"p":"T1","s":"Deoxy-Hb","t":3.25,"v":0.45},{"p":"T1","s":"Deoxy-Hb","t":4.12,"v":0.55},{"p":"T1","s":"Deoxy-Hb","t":4.99,"v":0.85},{"p":"T1","s":"Deoxy-Hb","t":5.86,"v":1.0},{"p":"T1","s":"Deoxy-Hb","t":6.72,"v":0.45},{"p":"T1","s":"Deoxy-Hb","t":7.59,"v":0.25},{"p":"T1","s":"Deoxy-Hb","t":8.75,"v":0},{"p":"T1","s":"Deoxy-Hb","t":10.0,"v":-0.4},{"p":"T1","s":"Deoxy-Hb","t":10.78,"v":-0.9},{"p":"T1","s":"Deoxy-Hb","t":11.65,"v":-1.4},{"p":"T1","s":"Deoxy-Hb","t":12.52,"v":-1.65},{"p":"T1","s":"Deoxy-Hb","t":13.25,"v":-2.25},{"p":"T1","s":"Deoxy-Hb","t":14.26,"v":-1.6},{"p":"T1","s":"Deoxy-Hb","t":14.84,"v":-2.45},{"p":"T1","s":"Deoxy-Hb","t":15.42,"v":-3.1},{"p":"T1","s":"Deoxy-Hb","t":16.29,"v":-3.3},{"p":"T1","s":"Deoxy-Hb","t":17.16,"v":-3.8},{"p":"T1","s":"Deoxy-Hb","t":18.32,"v":-4.25},{"p":"T1","s":"Deoxy-Hb","t":19.19,"v":-3.8},{"p":"T1","s":"Deoxy-Hb","t":19.77,"v":-3.6},{"p":"T1","s":"Deoxy-Hb","t":20.49,"v":-3.5},
      {"p":"T1","s":"Total-Hb","t":-4.29,"v":-0.5},{"p":"T1","s":"Total-Hb","t":-3.71,"v":0.05},{"p":"T1","s":"Total-Hb","t":-2.55,"v":0.15},{"p":"T1","s":"Total-Hb","t":-1.68,"v":-0.15},{"p":"T1","s":"Total-Hb","t":-0.81,"v":-0.35},{"p":"T1","s":"Total-Hb","t":0,"v":-0.7},{"p":"T1","s":"Total-Hb","t":0.64,"v":-1.1},{"p":"T1","s":"Total-Hb","t":1.36,"v":-1.95},{"p":"T1","s":"Total-Hb","t":2.09,"v":-1.2},{"p":"T1","s":"Total-Hb","t":2.67,"v":-0.7},{"p":"T1","s":"Total-Hb","t":3.39,"v":-0.25},{"p":"T1","s":"Total-Hb","t":4.12,"v":-0.5},{"p":"T1","s":"Total-Hb","t":4.99,"v":-1.3},{"p":"T1","s":"Total-Hb","t":5.86,"v":-0.9},{"p":"T1","s":"Total-Hb","t":6.72,"v":-1.6},{"p":"T1","s":"Total-Hb","t":7.88,"v":-1.5},{"p":"T1","s":"Total-Hb","t":9.04,"v":-1.1},{"p":"T1","s":"Total-Hb","t":10.0,"v":-0.5},{"p":"T1","s":"Total-Hb","t":10.78,"v":-0.8},{"p":"T1","s":"Total-Hb","t":11.65,"v":-0.35},{"p":"T1","s":"Total-Hb","t":12.52,"v":-0.35},{"p":"T1","s":"Total-Hb","t":13.25,"v":-0.7},{"p":"T1","s":"Total-Hb","t":13.68,"v":0.05},{"p":"T1","s":"Total-Hb","t":14.26,"v":1.0},{"p":"T1","s":"Total-Hb","t":14.99,"v":1.2},{"p":"T1","s":"Total-Hb","t":15.42,"v":2.0},{"p":"T1","s":"Total-Hb","t":16.0,"v":2.55},{"p":"T1","s":"Total-Hb","t":16.87,"v":3.05},{"p":"T1","s":"Total-Hb","t":17.74,"v":2.65},{"p":"T1","s":"Total-Hb","t":18.61,"v":2.0},{"p":"T1","s":"Total-Hb","t":19.48,"v":2.75},{"p":"T1","s":"Total-Hb","t":20.49,"v":2.55},

      {"p":"T2","s":"Oxy-Hb","t":-4.0,"v":-0.3},{"p":"T2","s":"Oxy-Hb","t":-3.31,"v":0.1},{"p":"T2","s":"Oxy-Hb","t":-2.46,"v":0.2},{"p":"T2","s":"Oxy-Hb","t":-1.9,"v":0.3},{"p":"T2","s":"Oxy-Hb","t":-1.06,"v":-0.1},{"p":"T2","s":"Oxy-Hb","t":-0.5,"v":-0.2},{"p":"T2","s":"Oxy-Hb","t":0,"v":-0.55},{"p":"T2","s":"Oxy-Hb","t":0.62,"v":-0.85},{"p":"T2","s":"Oxy-Hb","t":1.18,"v":-0.95},{"p":"T2","s":"Oxy-Hb","t":1.74,"v":-1.05},{"p":"T2","s":"Oxy-Hb","t":2.58,"v":-0.65},{"p":"T2","s":"Oxy-Hb","t":3.14,"v":-0.45},{"p":"T2","s":"Oxy-Hb","t":3.7,"v":-0.65},{"p":"T2","s":"Oxy-Hb","t":4.4,"v":-0.75},{"p":"T2","s":"Oxy-Hb","t":5.1,"v":-1.25},{"p":"T2","s":"Oxy-Hb","t":5.94,"v":-0.95},{"p":"T2","s":"Oxy-Hb","t":6.78,"v":-0.65},{"p":"T2","s":"Oxy-Hb","t":7.62,"v":-0.4},{"p":"T2","s":"Oxy-Hb","t":8.18,"v":0.1},{"p":"T2","s":"Oxy-Hb","t":8.74,"v":0.55},{"p":"T2","s":"Oxy-Hb","t":9.3,"v":1.15},{"p":"T2","s":"Oxy-Hb","t":10.0,"v":1.8},{"p":"T2","s":"Oxy-Hb","t":10.7,"v":2.35},{"p":"T2","s":"Oxy-Hb","t":11.54,"v":3.2},{"p":"T2","s":"Oxy-Hb","t":12.38,"v":4.35},{"p":"T2","s":"Oxy-Hb","t":13.22,"v":5.45},{"p":"T2","s":"Oxy-Hb","t":14.06,"v":6.4},{"p":"T2","s":"Oxy-Hb","t":14.9,"v":7.85},{"p":"T2","s":"Oxy-Hb","t":15.74,"v":8.75},{"p":"T2","s":"Oxy-Hb","t":16.44,"v":8.75},{"p":"T2","s":"Oxy-Hb","t":17.28,"v":8.7},{"p":"T2","s":"Oxy-Hb","t":17.98,"v":8.3},{"p":"T2","s":"Oxy-Hb","t":18.82,"v":7.65},{"p":"T2","s":"Oxy-Hb","t":19.66,"v":6.8},
      {"p":"T2","s":"Deoxy-Hb","t":-4.0,"v":0.45},{"p":"T2","s":"Deoxy-Hb","t":-3.31,"v":0.3},{"p":"T2","s":"Deoxy-Hb","t":-2.46,"v":0.2},{"p":"T2","s":"Deoxy-Hb","t":-1.9,"v":0},{"p":"T2","s":"Deoxy-Hb","t":-1.06,"v":-0.2},{"p":"T2","s":"Deoxy-Hb","t":0,"v":-0.65},{"p":"T2","s":"Deoxy-Hb","t":0.62,"v":-0.4},{"p":"T2","s":"Deoxy-Hb","t":1.32,"v":-0.45},{"p":"T2","s":"Deoxy-Hb","t":1.88,"v":0.3},{"p":"T2","s":"Deoxy-Hb","t":2.44,"v":0.65},{"p":"T2","s":"Deoxy-Hb","t":3.14,"v":0.1},{"p":"T2","s":"Deoxy-Hb","t":3.98,"v":0.45},{"p":"T2","s":"Deoxy-Hb","t":4.82,"v":0.55},{"p":"T2","s":"Deoxy-Hb","t":5.66,"v":0.85},{"p":"T2","s":"Deoxy-Hb","t":6.5,"v":0.95},{"p":"T2","s":"Deoxy-Hb","t":7.34,"v":1.15},{"p":"T2","s":"Deoxy-Hb","t":8.18,"v":0.85},{"p":"T2","s":"Deoxy-Hb","t":9.02,"v":0.4},{"p":"T2","s":"Deoxy-Hb","t":10.0,"v":0.1},{"p":"T2","s":"Deoxy-Hb","t":10.7,"v":-0.2},{"p":"T2","s":"Deoxy-Hb","t":11.4,"v":0.2},{"p":"T2","s":"Deoxy-Hb","t":12.1,"v":-0.3},{"p":"T2","s":"Deoxy-Hb","t":12.94,"v":-1.15},{"p":"T2","s":"Deoxy-Hb","t":13.78,"v":-2.0},{"p":"T2","s":"Deoxy-Hb","t":14.62,"v":-2.85},{"p":"T2","s":"Deoxy-Hb","t":15.46,"v":-3.6},{"p":"T2","s":"Deoxy-Hb","t":16.3,"v":-4.0},{"p":"T2","s":"Deoxy-Hb","t":17.14,"v":-4.0},{"p":"T2","s":"Deoxy-Hb","t":17.98,"v":-3.3},{"p":"T2","s":"Deoxy-Hb","t":18.82,"v":-2.45},{"p":"T2","s":"Deoxy-Hb","t":19.66,"v":-2.15},
      {"p":"T2","s":"Total-Hb","t":-4.0,"v":0.1},{"p":"T2","s":"Total-Hb","t":-3.31,"v":0.2},{"p":"T2","s":"Total-Hb","t":-2.46,"v":0.1},{"p":"T2","s":"Total-Hb","t":-1.62,"v":-0.1},{"p":"T2","s":"Total-Hb","t":-0.78,"v":-0.4},{"p":"T2","s":"Total-Hb","t":0,"v":-1.15},{"p":"T2","s":"Total-Hb","t":0.76,"v":-1.15},{"p":"T2","s":"Total-Hb","t":1.32,"v":-1.5},{"p":"T2","s":"Total-Hb","t":2.02,"v":-0.75},{"p":"T2","s":"Total-Hb","t":2.86,"v":-0.2},{"p":"T2","s":"Total-Hb","t":3.7,"v":0.1},{"p":"T2","s":"Total-Hb","t":4.4,"v":0.4},{"p":"T2","s":"Total-Hb","t":5.1,"v":0.2},{"p":"T2","s":"Total-Hb","t":5.94,"v":0.75},{"p":"T2","s":"Total-Hb","t":6.78,"v":1.25},{"p":"T2","s":"Total-Hb","t":7.62,"v":1.7},{"p":"T2","s":"Total-Hb","t":8.18,"v":2.25},{"p":"T2","s":"Total-Hb","t":9.02,"v":2.45},{"p":"T2","s":"Total-Hb","t":10.0,"v":3.1},{"p":"T2","s":"Total-Hb","t":10.7,"v":3.2},{"p":"T2","s":"Total-Hb","t":11.4,"v":3.85},{"p":"T2","s":"Total-Hb","t":12.1,"v":4.35},{"p":"T2","s":"Total-Hb","t":12.94,"v":3.85},{"p":"T2","s":"Total-Hb","t":13.78,"v":4.55},{"p":"T2","s":"Total-Hb","t":14.62,"v":4.8},{"p":"T2","s":"Total-Hb","t":15.32,"v":5.3},{"p":"T2","s":"Total-Hb","t":16.3,"v":5.55},{"p":"T2","s":"Total-Hb","t":17.14,"v":5.4},{"p":"T2","s":"Total-Hb","t":17.98,"v":5.2},{"p":"T2","s":"Total-Hb","t":18.82,"v":5.3},{"p":"T2","s":"Total-Hb","t":19.66,"v":4.7},

      {"p":"T3","s":"Oxy-Hb","t":-4.05,"v":0.2},{"p":"T3","s":"Oxy-Hb","t":-3.23,"v":0.1},{"p":"T3","s":"Oxy-Hb","t":-2.14,"v":0},{"p":"T3","s":"Oxy-Hb","t":-1.32,"v":-0.4},{"p":"T3","s":"Oxy-Hb","t":-0.49,"v":-0.5},{"p":"T3","s":"Oxy-Hb","t":0,"v":-0.75},{"p":"T3","s":"Oxy-Hb","t":0.6,"v":-1.25},{"p":"T3","s":"Oxy-Hb","t":1.15,"v":-1.75},{"p":"T3","s":"Oxy-Hb","t":2.25,"v":-1.9},{"p":"T3","s":"Oxy-Hb","t":3.34,"v":-2.0},{"p":"T3","s":"Oxy-Hb","t":4.16,"v":-2.3},{"p":"T3","s":"Oxy-Hb","t":4.99,"v":-2.2},{"p":"T3","s":"Oxy-Hb","t":5.67,"v":-2.3},{"p":"T3","s":"Oxy-Hb","t":6.36,"v":-2.0},{"p":"T3","s":"Oxy-Hb","t":7.18,"v":-1.55},{"p":"T3","s":"Oxy-Hb","t":7.86,"v":-1.15},{"p":"T3","s":"Oxy-Hb","t":8.82,"v":-1.35},{"p":"T3","s":"Oxy-Hb","t":9.64,"v":-0.95},{"p":"T3","s":"Oxy-Hb","t":10.47,"v":-0.85},{"p":"T3","s":"Oxy-Hb","t":11.29,"v":-0.75},{"p":"T3","s":"Oxy-Hb","t":12.11,"v":-0.5},{"p":"T3","s":"Oxy-Hb","t":12.66,"v":-0.2},{"p":"T3","s":"Oxy-Hb","t":13.21,"v":0.3},{"p":"T3","s":"Oxy-Hb","t":13.89,"v":0.4},{"p":"T3","s":"Oxy-Hb","t":14.58,"v":1.15},{"p":"T3","s":"Oxy-Hb","t":15.4,"v":1.9},{"p":"T3","s":"Oxy-Hb","t":16.22,"v":1.8},{"p":"T3","s":"Oxy-Hb","t":17.04,"v":2.3},{"p":"T3","s":"Oxy-Hb","t":18.14,"v":2.5},{"p":"T3","s":"Oxy-Hb","t":18.68,"v":2.3},{"p":"T3","s":"Oxy-Hb","t":19.23,"v":1.8},{"p":"T3","s":"Oxy-Hb","t":19.56,"v":1.55},
      {"p":"T3","s":"Deoxy-Hb","t":-4.05,"v":0},{"p":"T3","s":"Deoxy-Hb","t":-2.96,"v":0},{"p":"T3","s":"Deoxy-Hb","t":-1.59,"v":-0.1},{"p":"T3","s":"Deoxy-Hb","t":-0.77,"v":0.1},{"p":"T3","s":"Deoxy-Hb","t":0,"v":-0.2},{"p":"T3","s":"Deoxy-Hb","t":0.88,"v":0.1},{"p":"T3","s":"Deoxy-Hb","t":1.7,"v":0.3},{"p":"T3","s":"Deoxy-Hb","t":2.79,"v":0.5},{"p":"T3","s":"Deoxy-Hb","t":3.89,"v":0.4},{"p":"T3","s":"Deoxy-Hb","t":4.44,"v":0.6},{"p":"T3","s":"Deoxy-Hb","t":5.26,"v":0.3},{"p":"T3","s":"Deoxy-Hb","t":6.36,"v":0.2},{"p":"T3","s":"Deoxy-Hb","t":7.18,"v":0.6},{"p":"T3","s":"Deoxy-Hb","t":8.0,"v":0.2},{"p":"T3","s":"Deoxy-Hb","t":9.1,"v":0.1},{"p":"T3","s":"Deoxy-Hb","t":10.0,"v":-0.2},{"p":"T3","s":"Deoxy-Hb","t":11.01,"v":-0.3},{"p":"T3","s":"Deoxy-Hb","t":12.11,"v":-0.2},{"p":"T3","s":"Deoxy-Hb","t":12.93,"v":-0.4},{"p":"T3","s":"Deoxy-Hb","t":13.75,"v":-0.75},{"p":"T3","s":"Deoxy-Hb","t":14.3,"v":-1.15},{"p":"T3","s":"Deoxy-Hb","t":14.85,"v":-1.75},{"p":"T3","s":"Deoxy-Hb","t":15.4,"v":-2.4},{"p":"T3","s":"Deoxy-Hb","t":16.22,"v":-2.9},{"p":"T3","s":"Deoxy-Hb","t":17.04,"v":-3.25},{"p":"T3","s":"Deoxy-Hb","t":17.86,"v":-2.95},{"p":"T3","s":"Deoxy-Hb","t":18.68,"v":-3.05},{"p":"T3","s":"Deoxy-Hb","t":19.51,"v":-2.8},
      {"p":"T3","s":"Total-Hb","t":-4.05,"v":0},{"p":"T3","s":"Total-Hb","t":-2.96,"v":0},{"p":"T3","s":"Total-Hb","t":-1.86,"v":-0.1},{"p":"T3","s":"Total-Hb","t":-0.77,"v":-0.3},{"p":"T3","s":"Total-Hb","t":0,"v":-0.6},{"p":"T3","s":"Total-Hb","t":0.6,"v":-0.85},{"p":"T3","s":"Total-Hb","t":1.7,"v":-0.75},{"p":"T3","s":"Total-Hb","t":2.79,"v":-0.5},{"p":"T3","s":"Total-Hb","t":3.62,"v":-1.05},{"p":"T3","s":"Total-Hb","t":4.44,"v":-1.35},{"p":"T3","s":"Total-Hb","t":5.53,"v":-1.65},{"p":"T3","s":"Total-Hb","t":6.36,"v":-1.9},{"p":"T3","s":"Total-Hb","t":7.18,"v":-1.25},{"p":"T3","s":"Total-Hb","t":7.73,"v":-0.65},{"p":"T3","s":"Total-Hb","t":8.55,"v":-1.15},{"p":"T3","s":"Total-Hb","t":9.37,"v":-1.25},{"p":"T3","s":"Total-Hb","t":10.0,"v":-1.15},{"p":"T3","s":"Total-Hb","t":11.01,"v":-1.05},{"p":"T3","s":"Total-Hb","t":11.84,"v":-0.95},{"p":"T3","s":"Total-Hb","t":12.38,"v":-0.6},{"p":"T3","s":"Total-Hb","t":12.93,"v":-0.4},{"p":"T3","s":"Total-Hb","t":13.48,"v":-0.1},{"p":"T3","s":"Total-Hb","t":14.3,"v":0.2},{"p":"T3","s":"Total-Hb","t":14.85,"v":0.5},{"p":"T3","s":"Total-Hb","t":15.4,"v":0.75},{"p":"T3","s":"Total-Hb","t":15.95,"v":0.5},{"p":"T3","s":"Total-Hb","t":16.77,"v":0.4},{"p":"T3","s":"Total-Hb","t":17.59,"v":0.4},{"p":"T3","s":"Total-Hb","t":18.41,"v":0.5},{"p":"T3","s":"Total-Hb","t":19.1,"v":0.1},{"p":"T3","s":"Total-Hb","t":19.56,"v":-0.3},

      {"p":"T4","s":"Oxy-Hb","t":-4.06,"v":0.1},{"p":"T4","s":"Oxy-Hb","t":-3.21,"v":-0.1},{"p":"T4","s":"Oxy-Hb","t":-2.07,"v":0},{"p":"T4","s":"Oxy-Hb","t":-0.94,"v":-0.3},{"p":"T4","s":"Oxy-Hb","t":0,"v":-0.95},{"p":"T4","s":"Oxy-Hb","t":0.63,"v":-1.9},{"p":"T4","s":"Oxy-Hb","t":1.19,"v":-2.3},{"p":"T4","s":"Oxy-Hb","t":1.9,"v":-2.1},{"p":"T4","s":"Oxy-Hb","t":2.76,"v":-1.9},{"p":"T4","s":"Oxy-Hb","t":3.61,"v":-1.85},{"p":"T4","s":"Oxy-Hb","t":4.46,"v":-1.65},{"p":"T4","s":"Oxy-Hb","t":5.31,"v":-1.25},{"p":"T4","s":"Oxy-Hb","t":6.16,"v":-1.35},{"p":"T4","s":"Oxy-Hb","t":6.73,"v":-0.75},{"p":"T4","s":"Oxy-Hb","t":7.3,"v":0},{"p":"T4","s":"Oxy-Hb","t":8.15,"v":0.4},{"p":"T4","s":"Oxy-Hb","t":8.72,"v":0.2},{"p":"T4","s":"Oxy-Hb","t":9.29,"v":-0.3},{"p":"T4","s":"Oxy-Hb","t":10.0,"v":-0.2},{"p":"T4","s":"Oxy-Hb","t":10.71,"v":0},{"p":"T4","s":"Oxy-Hb","t":11.56,"v":0},{"p":"T4","s":"Oxy-Hb","t":12.41,"v":0.2},{"p":"T4","s":"Oxy-Hb","t":13.27,"v":0.6},{"p":"T4","s":"Oxy-Hb","t":13.84,"v":0.95},{"p":"T4","s":"Oxy-Hb","t":14.69,"v":1.25},{"p":"T4","s":"Oxy-Hb","t":15.54,"v":1.75},{"p":"T4","s":"Oxy-Hb","t":16.39,"v":1.55},{"p":"T4","s":"Oxy-Hb","t":16.96,"v":2.0},{"p":"T4","s":"Oxy-Hb","t":17.67,"v":2.1},{"p":"T4","s":"Oxy-Hb","t":18.38,"v":1.75},{"p":"T4","s":"Oxy-Hb","t":18.95,"v":1.45},{"p":"T4","s":"Oxy-Hb","t":19.38,"v":0.85},{"p":"T4","s":"Oxy-Hb","t":19.8,"v":0.2},
      {"p":"T4","s":"Deoxy-Hb","t":-4.06,"v":0.2},{"p":"T4","s":"Deoxy-Hb","t":-2.93,"v":0},{"p":"T4","s":"Deoxy-Hb","t":-1.51,"v":-0.1},{"p":"T4","s":"Deoxy-Hb","t":-0.65,"v":-0.2},{"p":"T4","s":"Deoxy-Hb","t":0,"v":-0.6},{"p":"T4","s":"Deoxy-Hb","t":0.63,"v":-0.4},{"p":"T4","s":"Deoxy-Hb","t":1.34,"v":0},{"p":"T4","s":"Deoxy-Hb","t":2.19,"v":0.2},{"p":"T4","s":"Deoxy-Hb","t":3.04,"v":0.1},{"p":"T4","s":"Deoxy-Hb","t":3.89,"v":-0.3},{"p":"T4","s":"Deoxy-Hb","t":5.03,"v":-0.6},{"p":"T4","s":"Deoxy-Hb","t":5.88,"v":-0.75},{"p":"T4","s":"Deoxy-Hb","t":6.73,"v":-1.05},{"p":"T4","s":"Deoxy-Hb","t":7.59,"v":-1.15},{"p":"T4","s":"Deoxy-Hb","t":8.72,"v":-1.05},{"p":"T4","s":"Deoxy-Hb","t":9.57,"v":-1.15},{"p":"T4","s":"Deoxy-Hb","t":10.14,"v":-1.35},{"p":"T4","s":"Deoxy-Hb","t":10.99,"v":-1.05},{"p":"T4","s":"Deoxy-Hb","t":11.85,"v":-0.95},{"p":"T4","s":"Deoxy-Hb","t":12.7,"v":-1.25},{"p":"T4","s":"Deoxy-Hb","t":13.55,"v":-1.85},{"p":"T4","s":"Deoxy-Hb","t":14.4,"v":-2.5},{"p":"T4","s":"Deoxy-Hb","t":15.26,"v":-3.25},{"p":"T4","s":"Deoxy-Hb","t":15.82,"v":-3.75},{"p":"T4","s":"Deoxy-Hb","t":16.39,"v":-3.65},{"p":"T4","s":"Deoxy-Hb","t":17.24,"v":-3.25},{"p":"T4","s":"Deoxy-Hb","t":18.1,"v":-3.15},{"p":"T4","s":"Deoxy-Hb","t":18.95,"v":-2.8},{"p":"T4","s":"Deoxy-Hb","t":19.8,"v":-2.2},
      {"p":"T4","s":"Total-Hb","t":-4.06,"v":0.2},{"p":"T4","s":"Total-Hb","t":-3.21,"v":0.1},{"p":"T4","s":"Total-Hb","t":-2.07,"v":0},{"p":"T4","s":"Total-Hb","t":-0.94,"v":-0.3},{"p":"T4","s":"Total-Hb","t":0,"v":-1.45},{"p":"T4","s":"Total-Hb","t":0.63,"v":-1.65},{"p":"T4","s":"Total-Hb","t":1.34,"v":-1.85},{"p":"T4","s":"Total-Hb","t":2.19,"v":-1.25},{"p":"T4","s":"Total-Hb","t":2.9,"v":-0.95},{"p":"T4","s":"Total-Hb","t":3.61,"v":-1.25},{"p":"T4","s":"Total-Hb","t":4.46,"v":-1.05},{"p":"T4","s":"Total-Hb","t":5.31,"v":-1.25},{"p":"T4","s":"Total-Hb","t":6.02,"v":-1.15},{"p":"T4","s":"Total-Hb","t":6.59,"v":-1.65},{"p":"T4","s":"Total-Hb","t":7.02,"v":-0.85},{"p":"T4","s":"Total-Hb","t":7.87,"v":0},{"p":"T4","s":"Total-Hb","t":8.44,"v":0.2},{"p":"T4","s":"Total-Hb","t":9.29,"v":-0.6},{"p":"T4","s":"Total-Hb","t":10.0,"v":-0.75},{"p":"T4","s":"Total-Hb","t":10.71,"v":-0.4},{"p":"T4","s":"Total-Hb","t":11.56,"v":-0.2},{"p":"T4","s":"Total-Hb","t":12.41,"v":0},{"p":"T4","s":"Total-Hb","t":13.27,"v":0.2},{"p":"T4","s":"Total-Hb","t":14.12,"v":0.5},{"p":"T4","s":"Total-Hb","t":14.83,"v":-0.1},{"p":"T4","s":"Total-Hb","t":15.82,"v":0.4},{"p":"T4","s":"Total-Hb","t":16.68,"v":0.2},{"p":"T4","s":"Total-Hb","t":17.67,"v":0.75},{"p":"T4","s":"Total-Hb","t":18.38,"v":0.6},{"p":"T4","s":"Total-Hb","t":18.95,"v":0.85},{"p":"T4","s":"Total-Hb","t":19.38,"v":0.2},{"p":"T4","s":"Total-Hb","t":19.8,"v":-0.6}
    ]
  },
  "spacing": 141,
  "vconcat": [
    {
      "spacing": 115,
      "vconcat": [
        {
          "title": {"text": "ADHD", "fontSize": 55, "anchor": "start", "dx": -156, "offset": -14},
          "spacing": 125,
          "hconcat": [
            {
              "title": {"text": "familiar face", "fontSize": 56, "anchor": "middle", "offset": 1, "dx": -20},
              "bounds": "flush", "spacing": 97,
              "hconcat": [
                {"width": 287, "height": 262,
                 "encoding": {
                   "x": {"field": "t", "type": "quantitative", "scale": {"domain": [-4.4, 19.9], "nice": false, "zero": false}, "axis": {"values": [0,3,10,17,19.43], "labelExpr": "datum.value > 18 ? ['', '(sec)'] : datum.label", "title": "Left temporal area", "titleX": 170, "titleY": 66}},
                   "y": {"field": "v", "type": "quantitative", "scale": {"domain": [-5, 10], "nice": false, "zero": false}, "axis": {"values": [-5,0,5,10], "grid": true, "gridOpacity": {"condition": {"test": "datum.value === 0", "value": 1}, "value": 0}, "title": ["Concentration changes", "[z-score]"], "titleX": -90, "titleY": 143}}
                 },
                 "layer": [
                   {"data": {"name": "ticks"}, "mark": {"type": "tick", "orient": "vertical", "size": 22, "thickness": 2.5, "color": "#8c8c8c", "opacity": 1}},
                   {"data": {"name": "curves"}, "transform": [{"filter": "datum.p == 'A1'"}], "mark": {"type": "line", "strokeWidth": 6, "strokeJoin": "round", "strokeCap": "round"}, "encoding": {"color": {"field": "s", "type": "nominal", "scale": {"domain": ["Oxy-Hb", "Deoxy-Hb", "Total-Hb"], "range": ["#e41e2b", "#1a70c8", "#17a94d"]}, "legend": null}}},
                   {"data": {"name": "phases"}, "transform": [{"filter": "datum.p == 'A1'"}], "mark": {"type": "rect", "blend": "multiply"}, "encoding": {"x2": {"field": "t2"}, "y2": {"field": "v2"}, "fill": {"field": "phase", "type": "nominal", "scale": {"domain": ["early phase (3 - 10s)", "late phase(10 - 17s)"], "range": ["#e8d6d6", "#dbe6f4"]}, "legend": null}}},
                   {"data": {"name": "dashes"}, "transform": [{"filter": "datum.p == 'A1'"}], "mark": {"type": "rule", "strokeDash": [7, 4], "strokeWidth": 2.5, "color": "#000"}, "encoding": {"y2": {"field": "v2"}}}
                 ]},
                {"width": 287, "height": 262,
                 "encoding": {
                   "x": {"field": "t", "type": "quantitative", "scale": {"domain": [-4.2, 20.0], "nice": false, "zero": false}, "axis": {"values": [0,3,10,17,19.2], "labelExpr": "datum.value > 18 ? ['', '(sec)'] : datum.label", "title": "Right temporal area", "titleX": 183, "titleY": 66}},
                   "y": {"field": "v", "type": "quantitative", "scale": {"domain": [-5, 10], "nice": false, "zero": false}, "axis": {"values": [-5,0,5,10], "grid": true, "gridOpacity": {"condition": {"test": "datum.value === 0", "value": 1}, "value": 0}, "title": null}}
                 },
                 "layer": [
                   {"data": {"name": "ticks"}, "mark": {"type": "tick", "orient": "vertical", "size": 22, "thickness": 2.5, "color": "#8c8c8c", "opacity": 1}},
                   {"data": {"name": "curves"}, "transform": [{"filter": "datum.p == 'A2'"}], "mark": {"type": "line", "strokeWidth": 6, "strokeJoin": "round", "strokeCap": "round"}, "encoding": {"color": {"field": "s", "type": "nominal", "scale": {"domain": ["Oxy-Hb", "Deoxy-Hb", "Total-Hb"], "range": ["#e41e2b", "#1a70c8", "#17a94d"]}, "legend": null}}},
                   {"data": {"name": "phases"}, "transform": [{"filter": "datum.p == 'A2'"}], "mark": {"type": "rect", "blend": "multiply"}, "encoding": {"x2": {"field": "t2"}, "y2": {"field": "v2"}, "fill": {"field": "phase", "type": "nominal", "scale": {"domain": ["early phase (3 - 10s)", "late phase(10 - 17s)"], "range": ["#e8d6d6", "#dbe6f4"]}, "legend": null}}},
                   {"data": {"name": "dashes"}, "transform": [{"filter": "datum.p == 'A2'"}], "mark": {"type": "rule", "strokeDash": [7, 4], "strokeWidth": 2.5, "color": "#000"}, "encoding": {"y2": {"field": "v2"}}}
                 ]}
              ]
            },
            {
              "title": {"text": "unfamiliar face", "fontSize": 56, "anchor": "middle", "offset": 1, "dx": 39},
              "bounds": "flush", "spacing": 100,
              "hconcat": [
                {"width": 287, "height": 262,
                 "encoding": {
                   "x": {"field": "t", "type": "quantitative", "scale": {"domain": [-4.4, 19.8], "nice": false, "zero": false}, "axis": {"values": [0,3,10,17,19.76], "labelExpr": "datum.value > 18 ? ['', '(sec)'] : datum.label", "title": "Left temporal area", "titleX": 149, "titleY": 66}},
                   "y": {"field": "v", "type": "quantitative", "scale": {"domain": [-5, 10], "nice": false, "zero": false}, "axis": {"values": [-5,0,5,10], "grid": true, "gridOpacity": {"condition": {"test": "datum.value === 0", "value": 1}, "value": 0}, "title": ["Concentration changes", "[z-score]"], "titleX": -90, "titleY": 143}}
                 },
                 "layer": [
                   {"data": {"name": "ticks"}, "mark": {"type": "tick", "orient": "vertical", "size": 22, "thickness": 2.5, "color": "#8c8c8c", "opacity": 1}},
                   {"data": {"name": "curves"}, "transform": [{"filter": "datum.p == 'A3'"}], "mark": {"type": "line", "strokeWidth": 6, "strokeJoin": "round", "strokeCap": "round"}, "encoding": {"color": {"field": "s", "type": "nominal", "scale": {"domain": ["Oxy-Hb", "Deoxy-Hb", "Total-Hb"], "range": ["#e41e2b", "#1a70c8", "#17a94d"]}, "legend": null}}},
                   {"data": {"name": "phases"}, "transform": [{"filter": "datum.p == 'A3'"}], "mark": {"type": "rect", "blend": "multiply"}, "encoding": {"x2": {"field": "t2"}, "y2": {"field": "v2"}, "fill": {"field": "phase", "type": "nominal", "scale": {"domain": ["early phase (3 - 10s)", "late phase(10 - 17s)"], "range": ["#e8d6d6", "#dbe6f4"]}, "legend": null}}},
                   {"data": {"name": "dashes"}, "transform": [{"filter": "datum.p == 'A3'"}], "mark": {"type": "rule", "strokeDash": [7, 4], "strokeWidth": 2.5, "color": "#000"}, "encoding": {"y2": {"field": "v2"}}}
                 ]},
                {"width": 287, "height": 262,
                 "encoding": {
                   "x": {"field": "t", "type": "quantitative", "scale": {"domain": [-4.3, 19.7], "nice": false, "zero": false}, "axis": {"values": [0,3,10,17,18.95], "labelExpr": "datum.value > 18 ? ['', '(sec)'] : datum.label", "title": "Right temporal area", "titleX": 157, "titleY": 66}},
                   "y": {"field": "v", "type": "quantitative", "scale": {"domain": [-5, 10], "nice": false, "zero": false}, "axis": {"values": [-5,0,5,10], "grid": true, "gridOpacity": {"condition": {"test": "datum.value === 0", "value": 1}, "value": 0}, "title": null}}
                 },
                 "layer": [
                   {"data": {"name": "ticks"}, "mark": {"type": "tick", "orient": "vertical", "size": 22, "thickness": 2.5, "color": "#8c8c8c", "opacity": 1}},
                   {"data": {"name": "curves"}, "transform": [{"filter": "datum.p == 'A4'"}], "mark": {"type": "line", "strokeWidth": 6, "strokeJoin": "round", "strokeCap": "round"}, "encoding": {"color": {"field": "s", "type": "nominal", "scale": {"domain": ["Oxy-Hb", "Deoxy-Hb", "Total-Hb"], "range": ["#e41e2b", "#1a70c8", "#17a94d"]}, "legend": null}}},
                   {"data": {"name": "phases"}, "transform": [{"filter": "datum.p == 'A4'"}], "mark": {"type": "rect", "blend": "multiply"}, "encoding": {"x2": {"field": "t2"}, "y2": {"field": "v2"}, "fill": {"field": "phase", "type": "nominal", "scale": {"domain": ["early phase (3 - 10s)", "late phase(10 - 17s)"], "range": ["#e8d6d6", "#dbe6f4"]}, "legend": null}}},
                   {"data": {"name": "dashes"}, "transform": [{"filter": "datum.p == 'A4'"}], "mark": {"type": "rule", "strokeDash": [7, 4], "strokeWidth": 2.5, "color": "#000"}, "encoding": {"y2": {"field": "v2"}}}
                 ]}
              ]
            }
          ]
        },
        {
          "title": {"text": "Typical", "fontSize": 55, "anchor": "start", "dx": -156, "offset": 4},
          "spacing": 119,
          "hconcat": [
            {
              "title": {"text": "familiar face", "fontSize": 56, "anchor": "middle", "offset": 4, "dx": -35},
              "bounds": "flush", "spacing": 98,
              "hconcat": [
                {"width": 287, "height": 262,
                 "encoding": {
                   "x": {"field": "t", "type": "quantitative", "scale": {"domain": [-4.4, 20.45], "nice": false, "zero": false}, "axis": {"values": [0,3,10,17,19.24], "labelExpr": "datum.value > 18 ? ['', '(sec)'] : datum.label", "title": "Left temporal area", "titleX": 178, "titleY": 66}},
                   "y": {"field": "v", "type": "quantitative", "scale": {"domain": [-5, 10], "nice": false, "zero": false}, "axis": {"values": [-5,0,5,10], "grid": true, "gridOpacity": {"condition": {"test": "datum.value === 0", "value": 1}, "value": 0}, "title": ["Concentration changes", "[z-score]"], "titleX": -90, "titleY": 143}}
                 },
                 "layer": [
                   {"data": {"name": "ticks"}, "mark": {"type": "tick", "orient": "vertical", "size": 22, "thickness": 2.5, "color": "#8c8c8c", "opacity": 1}},
                   {"data": {"name": "curves"}, "transform": [{"filter": "datum.p == 'T1'"}], "mark": {"type": "line", "strokeWidth": 6, "strokeJoin": "round", "strokeCap": "round"}, "encoding": {"color": {"field": "s", "type": "nominal", "scale": {"domain": ["Oxy-Hb", "Deoxy-Hb", "Total-Hb"], "range": ["#e41e2b", "#1a70c8", "#17a94d"]}, "legend": null}}},
                   {"data": {"name": "phases"}, "transform": [{"filter": "datum.p == 'T1'"}], "mark": {"type": "rect", "blend": "multiply"}, "encoding": {"x2": {"field": "t2"}, "y2": {"field": "v2"}, "fill": {"field": "phase", "type": "nominal", "scale": {"domain": ["early phase (3 - 10s)", "late phase(10 - 17s)"], "range": ["#e8d6d6", "#dbe6f4"]}, "legend": null}}},
                   {"data": {"name": "dashes"}, "transform": [{"filter": "datum.p == 'T1'"}], "mark": {"type": "rule", "strokeDash": [7, 4], "strokeWidth": 2.5, "color": "#000"}, "encoding": {"y2": {"field": "v2"}}}
                 ]},
                {"width": 287, "height": 262,
                 "encoding": {
                   "x": {"field": "t", "type": "quantitative", "scale": {"domain": [-4.1, 19.7], "nice": false, "zero": false}, "axis": {"values": [0,3,10,17,18.54], "labelExpr": "datum.value > 18 ? ['', '(sec)'] : datum.label", "title": "Right temporal area", "titleX": 189, "titleY": 66}},
                   "y": {"field": "v", "type": "quantitative", "scale": {"domain": [-5, 10], "nice": false, "zero": false}, "axis": {"values": [-5,0,5,10], "grid": true, "gridOpacity": {"condition": {"test": "datum.value === 0", "value": 1}, "value": 0}, "title": null}}
                 },
                 "layer": [
                   {"data": {"name": "ticks"}, "mark": {"type": "tick", "orient": "vertical", "size": 22, "thickness": 2.5, "color": "#8c8c8c", "opacity": 1}},
                   {"data": {"name": "curves"}, "transform": [{"filter": "datum.p == 'T2'"}], "mark": {"type": "line", "strokeWidth": 6, "strokeJoin": "round", "strokeCap": "round"}, "encoding": {"color": {"field": "s", "type": "nominal", "scale": {"domain": ["Oxy-Hb", "Deoxy-Hb", "Total-Hb"], "range": ["#e41e2b", "#1a70c8", "#17a94d"]}, "legend": null}}},
                   {"data": {"name": "phases"}, "transform": [{"filter": "datum.p == 'T2'"}], "mark": {"type": "rect", "blend": "multiply"}, "encoding": {"x2": {"field": "t2"}, "y2": {"field": "v2"}, "fill": {"field": "phase", "type": "nominal", "scale": {"domain": ["early phase (3 - 10s)", "late phase(10 - 17s)"], "range": ["#e8d6d6", "#dbe6f4"]}, "legend": null}}},
                   {"data": {"name": "dashes"}, "transform": [{"filter": "datum.p == 'T2'"}], "mark": {"type": "rule", "strokeDash": [7, 4], "strokeWidth": 2.5, "color": "#000"}, "encoding": {"y2": {"field": "v2"}}}
                 ]}
              ]
            },
            {
              "title": {"text": "unfamiliar face", "fontSize": 56, "anchor": "middle", "offset": 4, "dx": 15},
              "bounds": "flush", "spacing": 100,
              "hconcat": [
                {"width": 287, "height": 262,
                 "encoding": {
                   "x": {"field": "t", "type": "quantitative", "scale": {"domain": [-4.2, 19.8], "nice": false, "zero": false}, "axis": {"values": [0,3,10,17,19.5], "labelExpr": "datum.value > 18 ? ['', '(sec)'] : datum.label", "title": "Left temporal area", "titleX": 144, "titleY": 66}},
                   "y": {"field": "v", "type": "quantitative", "scale": {"domain": [-5, 10], "nice": false, "zero": false}, "axis": {"values": [-5,0,5,10], "grid": true, "gridOpacity": {"condition": {"test": "datum.value === 0", "value": 1}, "value": 0}, "title": ["Concentration changes", "[z-score]"], "titleX": -90, "titleY": 143}}
                 },
                 "layer": [
                   {"data": {"name": "ticks"}, "mark": {"type": "tick", "orient": "vertical", "size": 22, "thickness": 2.5, "color": "#8c8c8c", "opacity": 1}},
                   {"data": {"name": "curves"}, "transform": [{"filter": "datum.p == 'T3'"}], "mark": {"type": "line", "strokeWidth": 6, "strokeJoin": "round", "strokeCap": "round"}, "encoding": {"color": {"field": "s", "type": "nominal", "scale": {"domain": ["Oxy-Hb", "Deoxy-Hb", "Total-Hb"], "range": ["#e41e2b", "#1a70c8", "#17a94d"]}, "legend": null}}},
                   {"data": {"name": "phases"}, "transform": [{"filter": "datum.p == 'T3'"}], "mark": {"type": "rect", "blend": "multiply"}, "encoding": {"x2": {"field": "t2"}, "y2": {"field": "v2"}, "fill": {"field": "phase", "type": "nominal", "scale": {"domain": ["early phase (3 - 10s)", "late phase(10 - 17s)"], "range": ["#e8d6d6", "#dbe6f4"]}, "legend": null}}},
                   {"data": {"name": "dashes"}, "transform": [{"filter": "datum.p == 'T3'"}], "mark": {"type": "rule", "strokeDash": [7, 4], "strokeWidth": 2.5, "color": "#000"}, "encoding": {"y2": {"field": "v2"}}}
                 ]},
                {"width": 287, "height": 262,
                 "encoding": {
                   "x": {"field": "t", "type": "quantitative", "scale": {"domain": [-4.1, 19.9], "nice": false, "zero": false}, "axis": {"values": [0,3,10,17,19.3], "labelExpr": "datum.value > 18 ? ['', '(sec)'] : datum.label", "title": "Right temporal area", "titleX": 153, "titleY": 66}},
                   "y": {"field": "v", "type": "quantitative", "scale": {"domain": [-5, 10], "nice": false, "zero": false}, "axis": {"values": [-5,0,5,10], "grid": true, "gridOpacity": {"condition": {"test": "datum.value === 0", "value": 1}, "value": 0}, "title": null}}
                 },
                 "layer": [
                   {"data": {"name": "ticks"}, "mark": {"type": "tick", "orient": "vertical", "size": 22, "thickness": 2.5, "color": "#8c8c8c", "opacity": 1}},
                   {"data": {"name": "curves"}, "transform": [{"filter": "datum.p == 'T4'"}], "mark": {"type": "line", "strokeWidth": 6, "strokeJoin": "round", "strokeCap": "round"}, "encoding": {"color": {"field": "s", "type": "nominal", "scale": {"domain": ["Oxy-Hb", "Deoxy-Hb", "Total-Hb"], "range": ["#e41e2b", "#1a70c8", "#17a94d"]}, "legend": null}}},
                   {"data": {"name": "phases"}, "transform": [{"filter": "datum.p == 'T4'"}], "mark": {"type": "rect", "blend": "multiply"}, "encoding": {"x2": {"field": "t2"}, "y2": {"field": "v2"}, "fill": {"field": "phase", "type": "nominal", "scale": {"domain": ["early phase (3 - 10s)", "late phase(10 - 17s)"], "range": ["#e8d6d6", "#dbe6f4"]}, "legend": null}}},
                   {"data": {"name": "dashes"}, "transform": [{"filter": "datum.p == 'T4'"}], "mark": {"type": "rule", "strokeDash": [7, 4], "strokeWidth": 2.5, "color": "#000"}, "encoding": {"y2": {"field": "v2"}}}
                 ]}
              ]
            }
          ]
        }
      ]
    },
    {
      "bounds": "flush",
      "spacing": 242,
      "hconcat": [
        {
          "width": 710, "height": 81,
          "data": {"values": [{"s": "Oxy-Hb"}, {"s": "Deoxy-Hb"}, {"s": "Total-Hb"}]},
          "encoding": {"x": {"field": "s", "type": "nominal", "sort": null, "scale": {"type": "point", "domain": ["Oxy-Hb", "Deoxy-Hb", "Total-Hb"], "padding": 0.5, "align": 0.169}, "axis": null}},
          "layer": [
            {"mark": {"type": "point", "shape": "stroke", "size": 1600, "strokeWidth": 7, "opacity": 1, "filled": false}, "encoding": {"color": {"field": "s", "type": "nominal", "scale": {"domain": ["Oxy-Hb", "Deoxy-Hb", "Total-Hb"], "range": ["#e41e2b", "#1a70c8", "#17a94d"]}, "legend": null}}},
            {"mark": {"type": "text", "align": "left", "baseline": "middle", "dx": 22, "font": "Liberation Sans", "fontSize": 31, "color": "#1a1a1a"}, "encoding": {"text": {"field": "s"}}}
          ]
        },
        {
          "width": 707, "height": 81,
          "data": {"values": [{"phase": "early phase (3 - 10s)"}, {"phase": "late phase(10 - 17s)"}]},
          "encoding": {"x": {"field": "phase", "type": "nominal", "sort": null, "scale": {"paddingInner": 0, "paddingOuter": 0}, "axis": null}},
          "layer": [
            {"mark": {"type": "bar", "width": {"band": 1}}, "encoding": {"fill": {"field": "phase", "type": "nominal", "scale": {"domain": ["early phase (3 - 10s)", "late phase(10 - 17s)"], "range": ["#e8d6d6", "#dbe6f4"]}, "legend": null}}},
            {"mark": {"type": "text", "font": "Liberation Sans", "fontSize": 33, "color": "#1a1a1a"}, "encoding": {"text": {"field": "phase"}}}
          ]
        }
      ]
    }
  ],
  "config": {
    "view": {"stroke": null},
    "font": "DejaVu Sans",
    "axis": {"grid": false, "labelColor": "#1a1a1a", "titleColor": "#1a1a1a", "titleFontWeight": "normal", "labelFont": "DejaVu Sans", "titleFont": "DejaVu Sans"},
    "axisX": {"domain": false, "ticks": false, "tickSize": 0, "labelFontSize": 30, "labelPadding": 2, "labelLineHeight": 32, "titleFontSize": 29, "labelFlush": false, "labelOverlap": false},
    "axisY": {"domainColor": "#8c8c8c", "domainWidth": 2, "tickColor": "#8c8c8c", "tickWidth": 2, "tickSize": 10, "gridColor": "#8c8c8c", "gridWidth": 2, "labelFontSize": 26, "labelPadding": 15, "titleFontSize": 29, "titleLineHeight": 36, "labelOverlap": false, "labelExpr": "replace(datum.label, '\u2212', '-')"},
    "title": {"font": "Liberation Sans", "fontWeight": "normal", "color": "#000000"}
  }
}
